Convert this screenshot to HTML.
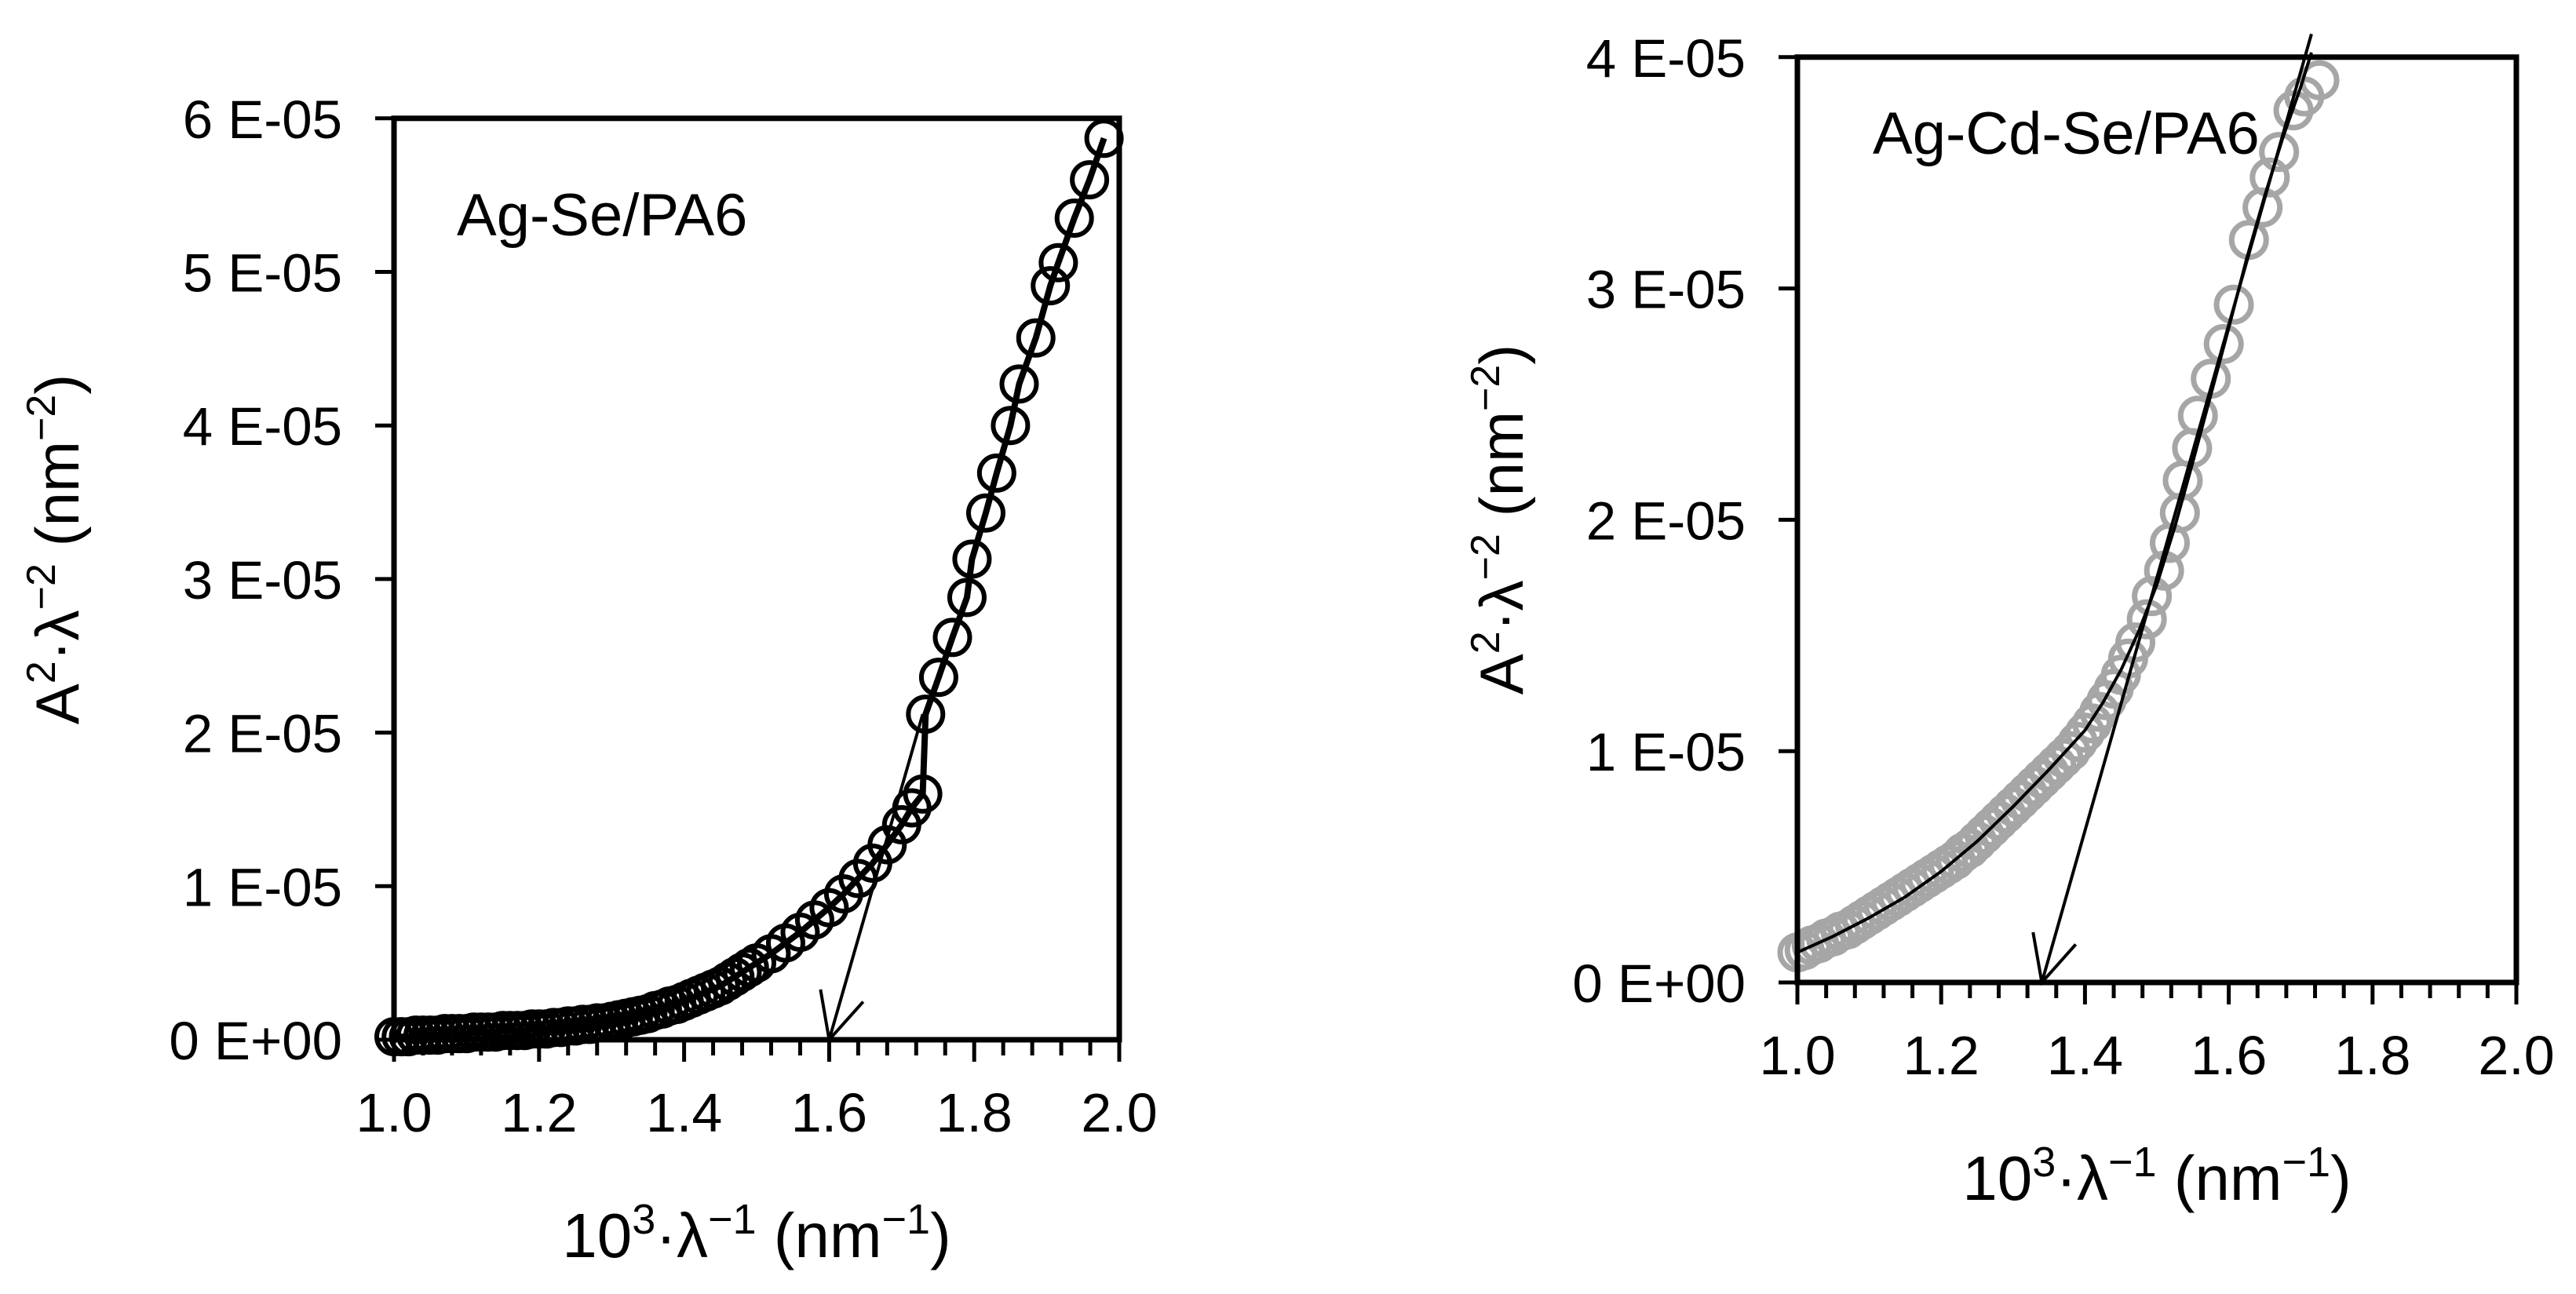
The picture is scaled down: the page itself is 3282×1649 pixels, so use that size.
<!DOCTYPE html>
<html><head><meta charset="utf-8"><style>
html,body{margin:0;padding:0;background:#fff;}
svg{display:block;font-family:"Liberation Sans",Arial,sans-serif;}
</style></head><body>
<svg id="fig" width="3282" height="1649" viewBox="0 0 3282 1649" xmlns="http://www.w3.org/2000/svg">
<rect width="3282" height="1649" fill="#fff"/>
<g id="left"></g>
<g id="right"></g>
</svg>
<script>
// ---- Left chart data (Ag-Se/PA6), y in units of 1E-05 ----
const leftX = [1.00,1.01,1.02,1.03,1.04,1.05,1.06,1.07,1.08,1.09,1.10,1.11,1.12,1.13,1.14,1.15,1.16,1.17,1.18,1.19,1.20,1.21,1.22,1.23,1.24,1.25,1.26,1.27,1.28,1.29,1.30,1.31,1.32,1.33,1.34,1.35,1.36,1.37,1.38,1.39,1.40,1.41,1.42,1.43,1.44,1.45,1.46,1.47,1.48,1.49,1.50,1.52,1.54,1.56,1.58,1.60,1.62,1.64,1.66,1.68,1.70,1.714,1.729,1.733,1.751,1.770,1.790,1.797,1.816,1.831,1.850,1.862,1.885,1.905,1.916,1.938,1.959,1.979];
const leftY = [0.02,0.02,0.02,0.03,0.03,0.03,0.03,0.04,0.04,0.04,0.04,0.05,0.05,0.05,0.05,0.06,0.06,0.06,0.06,0.07,0.07,0.07,0.08,0.08,0.09,0.09,0.10,0.10,0.11,0.11,0.12,0.13,0.14,0.15,0.16,0.17,0.19,0.20,0.22,0.23,0.25,0.27,0.29,0.31,0.33,0.35,0.38,0.41,0.44,0.47,0.50,0.56,0.63,0.70,0.78,0.86,0.95,1.05,1.15,1.27,1.40,1.51,1.60,2.12,2.36,2.62,2.88,3.13,3.43,3.69,4.00,4.27,4.57,4.91,5.06,5.35,5.60,5.87];
const leftTangent = [[1.729,2.12],[1.60,0]];
const leftYTicks = [0,1,2,3,4,5,6];
const leftYLabels = ["0 E+00","1 E-05","2 E-05","3 E-05","4 E-05","5 E-05","6 E-05"];
// ---- Right chart data (Ag-Cd-Se/PA6) ----
const rightX = [1.00,1.01,1.02,1.03,1.04,1.05,1.06,1.07,1.08,1.09,1.10,1.11,1.12,1.13,1.14,1.15,1.16,1.17,1.18,1.19,1.20,1.21,1.22,1.23,1.24,1.25,1.26,1.27,1.28,1.29,1.30,1.31,1.32,1.33,1.34,1.35,1.36,1.37,1.38,1.39,1.40,1.41,1.42,1.43,1.44,1.45,1.46,1.47,1.486,1.493,1.510,1.518,1.532,1.536,1.549,1.557,1.575,1.593,1.607,1.628,1.647,1.657,1.670,1.690,1.705,1.726];
const rightY = [0.13,0.14,0.16,0.17,0.19,0.20,0.22,0.23,0.25,0.27,0.29,0.31,0.33,0.35,0.37,0.39,0.41,0.43,0.45,0.47,0.49,0.51,0.53,0.56,0.58,0.61,0.64,0.67,0.70,0.73,0.76,0.79,0.82,0.85,0.88,0.91,0.94,0.97,1.00,1.04,1.08,1.12,1.17,1.22,1.27,1.33,1.40,1.47,1.57,1.67,1.78,1.90,2.03,2.17,2.31,2.45,2.61,2.76,2.93,3.21,3.35,3.48,3.59,3.77,3.83,3.90];
const rightFitX = [1.00,1.05,1.10,1.15,1.20,1.25,1.30,1.35,1.40,1.425,1.45,1.475,1.50,1.525,1.55,1.575,1.60,1.625,1.65,1.675,1.70,1.715];
const rightFitY = [0.13,0.20,0.28,0.37,0.48,0.61,0.76,0.92,1.09,1.21,1.35,1.52,1.72,1.97,2.25,2.54,2.83,3.13,3.40,3.65,3.87,4.02];
const rightTangent = [[1.715,4.10],[1.34,0]];
const rightYTicks = [0,1,2,3,4];
const rightYLabels = ["0 E+00","1 E-05","2 E-05","3 E-05","4 E-05"];
const xTicks = [1.0,1.2,1.4,1.6,1.8,2.0];
const xLabels = ["1.0","1.2","1.4","1.6","1.8","2.0"];

const NS="http://www.w3.org/2000/svg";
function mk(parent,tag,attrs,text){const e=document.createElementNS(NS,tag);for(const k in attrs)e.setAttribute(k,attrs[k]);if(text!==undefined)e.textContent=text;parent.appendChild(e);return e;}

function chart(g,cfg){
  const sx=v=>cfg.x0+(v-1)*(cfg.x1-cfg.x0);
  const sy=v=>cfg.y0-v*cfg.yUnit;
  for(let i=0;i<cfg.px.length;i++){
    const c=mk(g,'circle',{cx:sx(cfg.px[i]),cy:sy(cfg.py[i]),r:cfg.r,fill:'none',stroke:cfg.color,'stroke-width':cfg.sw});
    
    
  }
  const pts=cfg.fx.map((x,i)=>sx(x)+','+sy(cfg.fy[i])).join(' ');
  const fl=mk(g,'polyline',{points:pts,fill:'none',stroke:'#000','stroke-width':cfg.fitW,'stroke-linejoin':'round'});
  
  
  const [a,b]=cfg.tan;
  const ax=sx(a[0]),ay=sy(a[1]),bx=sx(b[0]),by=sy(b[1]);
  const tl=mk(g,'line',{x1:ax,y1:ay,x2:bx,y2:by,stroke:'#000','stroke-width':4});
  
  
  const ang=Math.atan2(by-ay,bx-ax),L=65;
  const ah=mk(g,'polyline',{points:`${bx-L*Math.cos(ang-0.45)},${by-L*Math.sin(ang-0.45)} ${bx},${by} ${bx-L*Math.cos(ang+0.45)},${by-L*Math.sin(ang+0.45)}`,fill:'none',stroke:'#000','stroke-width':4});
  
  
  const fr=mk(g,'rect',{x:cfg.x0,y:sy(cfg.yMax),width:cfg.x1-cfg.x0,height:cfg.y0-sy(cfg.yMax),fill:'none',stroke:'#000','stroke-width':7});
  
  
  cfg.yt.forEach((v,i)=>{
    const t=mk(g,'line',{x1:cfg.x0-24,x2:cfg.x0,y1:sy(v),y2:sy(v),stroke:'#000','stroke-width':5});
    
    
    const l=mk(g,'text',{x:cfg.x0-66,y:sy(v)+25,'text-anchor':'end','font-size':69},cfg.yl[i]);
    
    
  });
  for(let k=0;k<=25;k++){
    const v=1+k*0.04, major=(k%5===0);
    const t=mk(g,'line',{x1:sx(v),x2:sx(v),y1:cfg.y0,y2:cfg.y0+(major?28:20),stroke:'#000','stroke-width':5});
    
    
  }
  xTicks.forEach((v,i)=>{
    const l=mk(g,'text',{x:sx(v),y:cfg.y0+117,'text-anchor':'middle','font-size':70},xLabels[i]);
    
    
  });
  const xt=mk(g,'text',{x:(cfg.x0+cfg.x1)/2,y:cfg.y0+277,'text-anchor':'middle','font-size':80});
  xt.innerHTML='10<tspan font-size="54" dy="-30">3</tspan><tspan dy="30">·λ</tspan><tspan font-size="54" dy="-30">−1</tspan><tspan dy="30"> (nm</tspan><tspan font-size="54" dy="-30">−1</tspan><tspan dy="30">)</tspan>';
  
  
  const yt=mk(g,'text',{x:0,y:0,'text-anchor':'middle','font-size':78,transform:`translate(${cfg.ytX},${cfg.ytY}) rotate(-90)`});
  yt.innerHTML='A<tspan font-size="52" dy="-30">2</tspan><tspan dy="30">·λ</tspan><tspan font-size="52" dy="-30">−2</tspan><tspan dy="30"> (nm</tspan><tspan font-size="52" dy="-30">−2</tspan><tspan dy="30">)</tspan>';
  
  
  const an=mk(g,'text',{x:cfg.annX,y:cfg.annY,'font-size':76},cfg.ann);
  
  
}

chart(document.getElementById('left'),{x0:502,x1:1426,y0:1325,yUnit:195.7,yMax:6,px:leftX,py:leftY,fx:leftX,fy:leftY,
  r:22,sw:6,color:'#000',fitW:8,tan:leftTangent,yt:leftYTicks,yl:leftYLabels,ytX:100,ytY:700,ann:'Ag-Se/PA6',annX:582,annY:300});
chart(document.getElementById('right'),{x0:2290,x1:3206,y0:1252,yUnit:294.8,yMax:4,px:rightX,py:rightY,fx:rightFitX,fy:rightFitY,
  r:22,sw:7,color:'#a6a6a6',fitW:4,tan:rightTangent,yt:rightYTicks,yl:rightYLabels,ytX:1940,ytY:662,ann:'Ag-Cd-Se/PA6',annX:2386,annY:196});
</script>
</body></html>
